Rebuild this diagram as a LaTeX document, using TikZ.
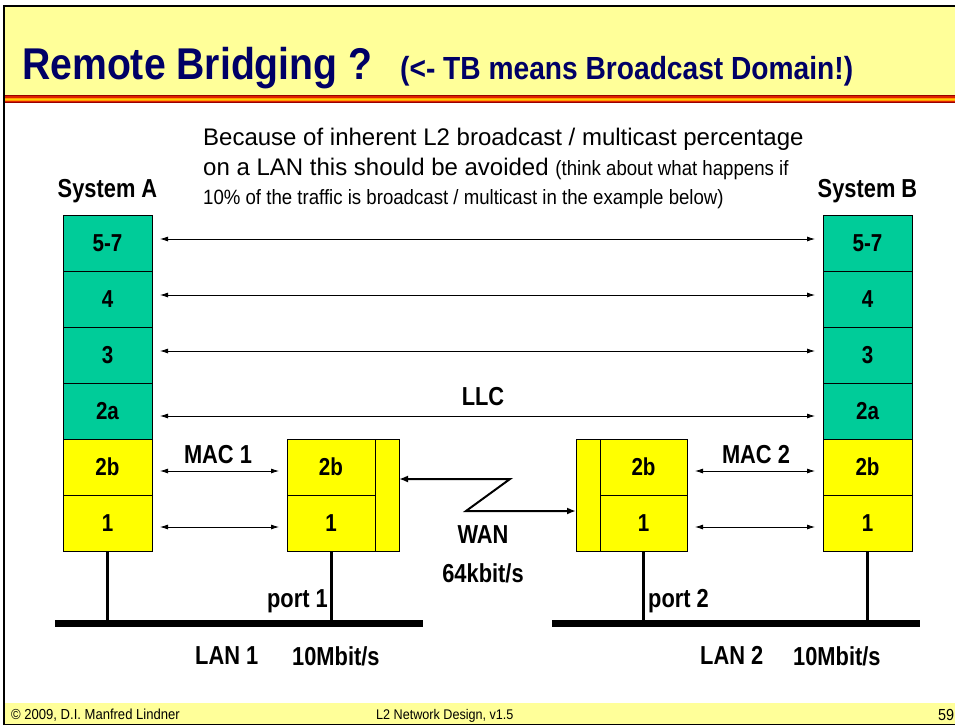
\documentclass[tikz,border=0pt]{standalone}
\usepackage{fontspec}
\setmainfont{Liberation Sans}
\newfontfamily\narrow[FakeStretch=0.9]{Liberation Sans}
\newfontfamily\narrowb[FakeStretch=0.84]{Liberation Sans}
\newfontfamily\titlef[FakeStretch=0.88]{Liberation Sans}
\usetikzlibrary{arrows.meta}
\definecolor{teal1}{HTML}{00CC99}
\definecolor{yel}{HTML}{FFFF00}
\definecolor{titlebg}{HTML}{FFFF99}
\definecolor{navy}{HTML}{000066}
\definecolor{dred}{HTML}{990000}
\definecolor{rred}{HTML}{DD2200}
\definecolor{orng}{HTML}{FF9900}
\definecolor{yorg}{HTML}{FFCC00}
\tikzset{
  layer/.style={draw=black, line width=1pt, minimum width=89pt, minimum height=56pt, inner sep=0pt, outer sep=0pt, font=\narrowb\bfseries\fontsize{24.5}{27}\selectfont},
  upper/.style={layer, fill=teal1},
  lower/.style={layer, fill=yel},
  side/.style={draw=black, line width=1pt, fill=yel, minimum width=24pt, minimum height=112pt, inner sep=0pt, outer sep=0pt},
  lbl/.style={inner sep=0pt, font=\narrowb\bfseries\fontsize{26}{29}\selectfont},
  peer/.style={line width=0.8pt, {Latex[length=8pt,width=5pt]}-{Latex[length=8pt,width=5pt]}, shorten <=8pt, shorten >=8pt},
  wan/.style={line width=2pt},
  lan/.style={line width=7pt},
  drop/.style={line width=3pt},
}
\begin{document}
\begin{tikzpicture}[x=1pt,y=-1pt]
\useasboundingbox (0,0) rectangle (955,725);
\fill[white] (0,0) rectangle (955,725);
% title band
\fill[titlebg] (4,7) rectangle (955,95);
\fill[dred] (4,95) rectangle (955,96.3);
\fill[rred] (4,96.3) rectangle (955,97.6);
\fill[orng] (4,97.6) rectangle (955,98.6);
\fill[yorg] (4,98.6) rectangle (955,99.6);
\fill[orng] (4,99.6) rectangle (955,100.6);
\fill[rred] (4,100.6) rectangle (955,101.8);
\fill[dred] (4,101.8) rectangle (955,103);
\draw[line width=2pt] (4,725) -- (4,6) -- (955,6);
% footer band
\fill[titlebg] (5,703) rectangle (955,725);
\draw[line width=1pt] (4,724.5) -- (955,724.5);
\node[anchor=base west, inner sep=0pt, font=\narrow\fontsize{14.5}{16}\selectfont] (f1) at (11,719) {© 2009, D.I. Manfred Lindner};
\node[anchor=base west, inner sep=0pt, font=\narrow\fontsize{14}{16}\selectfont] (f2) at (376,719) {L2 Network Design, v1.5};
\node[anchor=base west, inner sep=0pt, font=\narrow\fontsize{16}{18}\selectfont] (f3) at (938,720) {59};
% title
\node[anchor=base west, inner sep=0pt, text=navy, font=\titlef\bfseries\fontsize{44.5}{50}\selectfont] (title) at (22,79) {Remote Bridging ?};
\node[anchor=base west, inner sep=0pt, text=navy, font=\titlef\bfseries\fontsize{32}{35}\selectfont] (sub) at (400,79) {(<- TB means Broadcast Domain!)};
% explanatory text
\node[anchor=base west, inner sep=0pt, font=\fontsize{24}{27}\selectfont] (t1) at (203,145) {Because of inherent L2 broadcast / multicast percentage};
\node[anchor=base west, inner sep=0pt, font=\fontsize{24}{27}\selectfont] (t2) at (203,175) {on a LAN this should be avoided {\narrow\fontsize{20.7}{23}\selectfont (think about what happens if}};
\node[anchor=base west, inner sep=0pt, font=\narrow\fontsize{20.7}{23}\selectfont] (t3) at (203,204) {10\% of the traffic is broadcast / multicast in the example below)};
% System A
\node[lbl, anchor=base] (sysA) at (107.5,197) {System A};
\node[upper] (a57) at (107.5,243) {5-7};
\node[upper] (a4) at (107.5,299) {4};
\node[upper] (a3) at (107.5,355) {3};
\node[upper] (a2a) at (107.5,411) {2a};
\node[lower] (a2b) at (107.5,467) {2b};
\node[lower] (a1) at (107.5,523) {1};
% System B
\node[lbl, anchor=base] (sysB) at (867.5,197) {System B};
\node[upper] (b57) at (867.5,243) {5-7};
\node[upper] (b4) at (867.5,299) {4};
\node[upper] (b3) at (867.5,355) {3};
\node[upper] (b2a) at (867.5,411) {2a};
\node[lower] (b2b) at (867.5,467) {2b};
\node[lower] (b1) at (867.5,523) {1};
% Bridge 1
\node[lower, minimum width=88pt] (p2b) at (331,467) {2b};
\node[lower, minimum width=88pt] (p1) at (331,523) {1};
\node[side] (ps) at (387,495) {};
% Bridge 2
\node[side] (qs) at (588,495) {};
\node[lower, minimum width=87pt] (q2b) at (643.5,467) {2b};
\node[lower, minimum width=87pt] (q1) at (643.5,523) {1};
% peer arrows
\draw[peer] ([yshift=4pt]a57.east) -- ([yshift=4pt]b57.west);
\draw[peer] ([yshift=4pt]a4.east) -- ([yshift=4pt]b4.west);
\draw[peer] ([yshift=4pt]a3.east) -- ([yshift=4pt]b3.west);
\draw[peer] ([yshift=-5pt]a2a.east) -- ([yshift=-5pt]b2a.west);
\node[lbl, anchor=base] (llc) at (483,405) {LLC};
\draw[peer] ([yshift=-4pt]a2b.east) -- ([yshift=-4pt]p2b.west);
\draw[peer] ([yshift=-4pt]a1.east) -- ([yshift=-4pt]p1.west);
\draw[peer] ([yshift=-4pt]q2b.east) -- ([yshift=-4pt]b2b.west);
\draw[peer] ([yshift=-4pt]q1.east) -- ([yshift=-4pt]b1.west);
\node[lbl, anchor=base] (mac1) at (218,463) {MAC 1};
\node[lbl, anchor=base] (mac2) at (756,463) {MAC 2};
% WAN link
\coordinate (w1) at (510,479);
\coordinate (w2) at (466,511);
\draw[wan, {Latex[length=9pt,width=7pt]}-{Latex[length=9pt,width=7pt]}] (ps.east |- w1) -- (w1) -- (w2) -- (qs.west |- w2);
\node[lbl, anchor=base] (wan) at (483,543) {WAN};
\node[lbl, anchor=base] (rate) at (483,582) {64kbit/s};
% LANs
\coordinate (lan1l) at (55,623);
\coordinate (lan1r) at (423,623);
\coordinate (lan2l) at (552,623);
\coordinate (lan2r) at (920,623);
\draw[lan] (lan1l) -- (lan1r);
\draw[lan] (lan2l) -- (lan2r);
\draw[drop] (a1.south) -- (a1.south |- lan1l);
\draw[drop] (p1.south) -- (p1.south |- lan1l);
\draw[drop] (q1.south) -- (q1.south |- lan2l);
\draw[drop] (b1.south) -- (b1.south |- lan2l);
\node[lbl, anchor=base east] (port1) at (328,607) {port 1};
\node[lbl, anchor=base west] (port2) at (648,607) {port 2};
\node[lbl, anchor=base west] (lan1) at (195,664) {LAN 1};
\node[lbl, anchor=base west] (sp1) at (292,665) {10Mbit/s};
\node[lbl, anchor=base west] (lan2) at (700,664) {LAN 2};
\node[lbl, anchor=base west] (sp2) at (793,665) {10Mbit/s};
\end{tikzpicture}
\end{document}
